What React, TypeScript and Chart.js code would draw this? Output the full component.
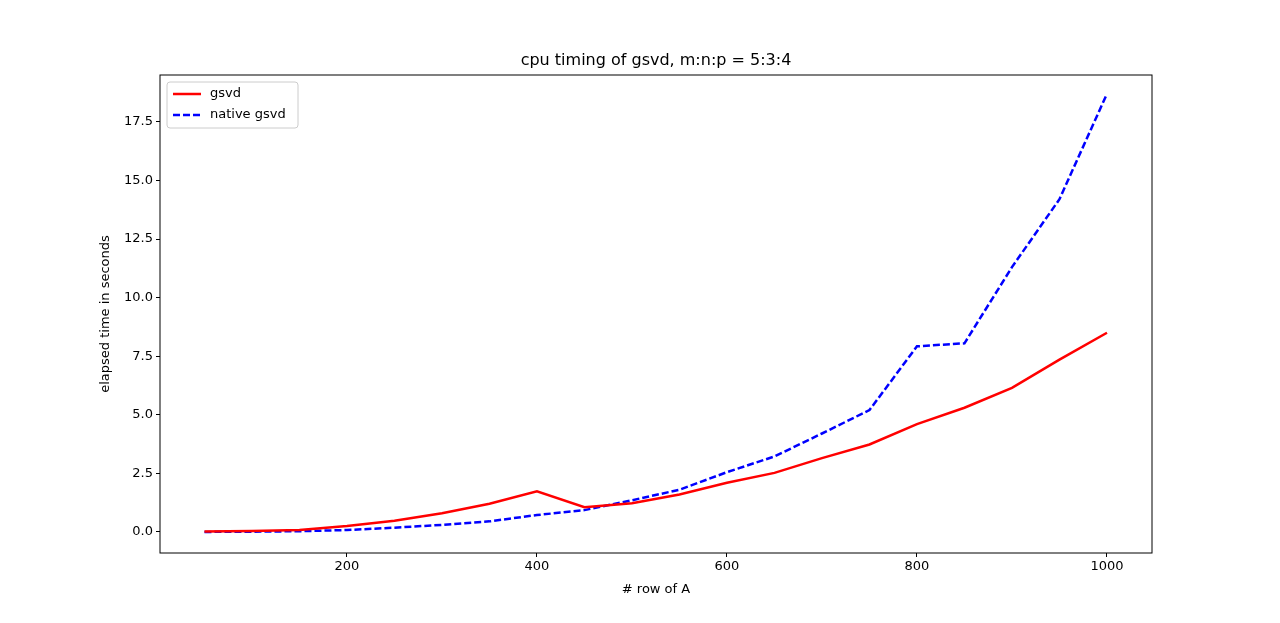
import { useEffect, useRef } from "react";
import { Chart, registerables } from "chart.js";

Chart.register(...registerables);

const rows = [50, 100, 150, 200, 250, 300, 350, 400, 450, 500, 550, 600, 650, 700, 750, 800, 850, 900, 950, 1000];
const gsvd = [0.02, 0.04, 0.08, 0.25, 0.48, 0.8, 1.2, 1.73, 1.05, 1.22, 1.6, 2.1, 2.52, 3.15, 3.73, 4.6, 5.3, 6.15, 7.35, 8.5];
const nativeGsvd = [0, 0.01, 0.03, 0.08, 0.18, 0.3, 0.45, 0.72, 0.93, 1.35, 1.8, 2.55, 3.22, 4.2, 5.2, 7.92, 8.05, 11.3, 14.2, 18.7];
const xTicks = [200, 400, 600, 800, 1000];
const yTicks = [0, 2.5, 5, 7.5, 10, 12.5, 15, 17.5];

const FONT = "'DejaVu Sans', sans-serif";

const framePlugin = {
  id: "frame",
  afterDraw(chart: any) {
    const { ctx, chartArea: a } = chart;
    ctx.save();
    ctx.strokeStyle = "#000";
    ctx.lineWidth = 1;
    ctx.strokeRect(a.left, a.top, a.right - a.left, a.bottom - a.top);
    ctx.fillStyle = "#000";
    ctx.font = `16px ${FONT}`;
    ctx.textAlign = "center";
    ctx.textBaseline = "bottom";
    ctx.fillText("cpu timing of gsvd, m:n:p = 5:3:4", (a.left + a.right) / 2, a.top - 6);
    // axis titles
    ctx.font = `13px ${FONT}`;
    ctx.textBaseline = "middle";
    ctx.fillText("# row of A", (a.left + a.right) / 2, 590);
    ctx.save();
    ctx.translate(106, (a.top + a.bottom) / 2);
    ctx.rotate(-Math.PI / 2);
    ctx.fillText("elapsed time in seconds", 0, 0);
    ctx.restore();
    // legend
    const lx = a.left + 7, ly = a.top + 7;
    ctx.fillStyle = "rgba(255,255,255,0.8)";
    ctx.strokeStyle = "#ccc";
    ctx.beginPath();
    ctx.roundRect(lx, ly, 131, 46, 3);
    ctx.fill();
    ctx.stroke();
    const items = [
      { label: "gsvd", color: "red", dash: [] as number[] },
      { label: "native gsvd", color: "blue", dash: [7, 3] },
    ];
    ctx.textAlign = "left";
    items.forEach((it, i) => {
      const y = ly + 12 + i * 21;
      ctx.strokeStyle = it.color;
      ctx.lineWidth = 2.5;
      ctx.setLineDash(it.dash);
      ctx.beginPath();
      ctx.moveTo(lx + 6, y);
      ctx.lineTo(lx + 34, y);
      ctx.stroke();
      ctx.setLineDash([]);
      ctx.fillStyle = "#000";
      ctx.fillText(it.label, lx + 43, y);
    });
    ctx.restore();
  },
};

export default function App() {
  const ref = useRef<HTMLCanvasElement | null>(null);

  useEffect(() => {
    if (!ref.current) return;
    const chart = new Chart(ref.current, {
      type: "line",
      data: {
        datasets: [
          { label: "gsvd", data: rows.map((x, i) => ({ x, y: gsvd[i] })), borderColor: "red", borderWidth: 2.5, pointRadius: 0, tension: 0 },
          { label: "native gsvd", data: rows.map((x, i) => ({ x, y: nativeGsvd[i] })), borderColor: "blue", borderWidth: 2.5, borderDash: [7, 3], pointRadius: 0, tension: 0 },
        ],
      },
      options: {
        animation: false,
        responsive: false,
        layout: { padding: { top: 75, right: 128, left: 0, bottom: 0 } },
        plugins: { legend: { display: false }, title: { display: false }, tooltip: { enabled: false } },
        scales: {
          x: {
            type: "linear",
            min: 3.2,
            max: 1047.4,
            afterBuildTicks: (s: any) => { s.ticks = xTicks.map((v) => ({ value: v })); },
            afterFit: (s: any) => { s.height = 70; },
            grid: { drawOnChartArea: false, tickLength: 4, color: "#000" },
            border: { display: false },
            ticks: { color: "#000", font: { family: FONT, size: 13 }, padding: 2, maxRotation: 0, callback: (v: any) => String(v) },
          },
          y: {
            min: -0.9,
            max: 19.5,
            afterBuildTicks: (s: any) => { s.ticks = yTicks.map((v) => ({ value: v })); },
            afterFit: (s: any) => { s.width = 160; },
            grid: { drawOnChartArea: false, tickLength: 4, color: "#000" },
            border: { display: false },
            ticks: { color: "#000", font: { family: FONT, size: 13 }, padding: 3, callback: (v: any) => Number(v).toFixed(1) },
          },
        },
      },
      plugins: [framePlugin],
    });
    return () => chart.destroy();
  }, []);

  return (
    <div style={{ margin: -8, background: "#fff" }}>
      <canvas ref={ref} width={1280} height={623} style={{ display: "block" }} />
    </div>
  );
}
